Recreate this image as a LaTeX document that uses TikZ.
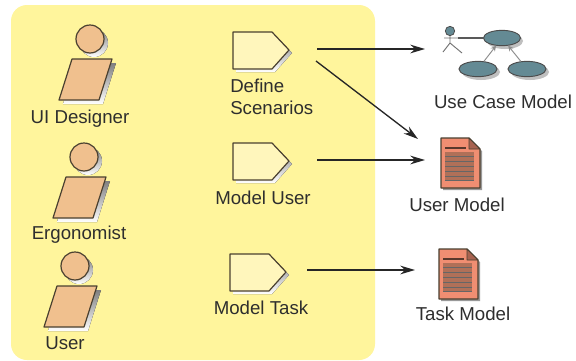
\documentclass[tikz,border=0pt]{standalone}
\usepackage{fontspec}
\setmainfont{Liberation Sans}
\usetikzlibrary{arrows.meta,shapes.geometric}
\definecolor{panel}{HTML}{FFF59C}
\definecolor{skin}{HTML}{F0C08E}
\definecolor{taskfill}{HTML}{FFF6BC}
\definecolor{docfill}{HTML}{F08E72}
\definecolor{docdark}{HTML}{B07058}
\definecolor{ucfill}{HTML}{648A94}
\definecolor{shade}{HTML}{A8A8B8}
\definecolor{inkline}{HTML}{4A4030}
\definecolor{labeltext}{HTML}{2E2E2E}
\tikzset{
  x=0.75pt,y=-0.75pt,
  lbl/.style={font=\fontsize{14}{16.5}\selectfont,text=labeltext,inner sep=0pt,align=left},
  arr/.style={-{Stealth[length=11pt,width=6.5pt]},line width=1pt,black!85},
  outl/.style={draw=inkline,line width=0.9pt,line join=round},
  ucell/.style={ellipse,draw=black!70,fill=ucfill,line width=0.7pt,inner sep=0pt,minimum height=11.5pt},
  ucdep/.style={draw=black!45,line width=0.7pt,-{Stealth[length=4pt,width=4pt]}}
}
\newcommand{\personicon}[2]{%
  \begin{scope}[shift={(#1,#2)}]
    \fill[shade] (4,4) circle (14);
    \fill[shade] (-14,24) -- (26,24) -- (13,65) -- (-27,65) -- cycle;
    \draw[outl,fill=skin] (0,0) circle (14);
    \draw[outl,fill=skin] (-18,20) -- (22,20) -- (9,61) -- (-31,61) -- cycle;
  \end{scope}}
\newcommand{\taskicon}[2]{%
  \begin{scope}[shift={(#1,#2)}]
    \fill[shade] (3,3) -- (42,3) -- (59,21) -- (42,40) -- (3,40) -- cycle;
    \draw[outl,fill=taskfill] (0,0) -- (39,0) -- (56,18) -- (39,37) -- (0,37) -- cycle;
  \end{scope}}
\newcommand{\docicon}[2]{%
  \begin{scope}[shift={(#1,#2)}]
    \fill[black!40] (2,2) -- (30,2) -- (41,13) -- (41,52) -- (2,52) -- cycle;
    \draw[outl,fill=docfill] (0,0) -- (28,0) -- (39,11) -- (39,50) -- (0,50) -- cycle;
    \draw[outl,fill=docfill!70!black,line width=0.6pt] (28,0) -- (28,11) -- (39,11) -- cycle;
    \draw[docdark!50!black,line width=1.1pt] (4,10) -- (25,10);
    \fill[docdark] (4,14) rectangle (33,43);
    \foreach \yy in {18,23,28,33,38,42}{\draw[black!60,line width=0.7pt] (4,\yy) -- (33,\yy);}
  \end{scope}}
\begin{document}
\begin{tikzpicture}
\useasboundingbox (0,0) rectangle (576,361);
\fill[white] (0,0) rectangle (576,361);
\fill[panel,rounded corners=12pt] (11,5) rectangle (375,360);

\personicon{90}{39}
\personicon{84}{157}
\personicon{75}{266}
\taskicon{233}{32}
\taskicon{233}{143}
\taskicon{230}{254}
\docicon{441}{138}
\docicon{439}{249}

% use case model
\fill[black!25] (505,41) ellipse (18 and 8);
\fill[black!25] (481,72) ellipse (19 and 8);
\fill[black!25] (530,72) ellipse (19 and 8);
\node[ucell,minimum width=27.75pt] (ucTop) at (502,38) {};
\node[ucell,minimum width=28.5pt] (ucLeft) at (478,69) {};
\node[ucell,minimum width=28.5pt] (ucRight) at (527,69) {};
\node[circle,fill=ucfill,draw=black!70,line width=0.6pt,inner sep=0pt,minimum size=7pt] (actorHead) at (450,31) {};
\coordinate (actorHip) at (450,43);
\coordinate (actorFootL) at (443,52);
\coordinate (actorFootR) at (462,53);
\coordinate (actorArmL) at (444,38);
\coordinate (actorArmR) at (458,38);
\draw[black!55,line width=0.7pt] (actorHead) -- (actorHip) (actorFootL) -- (actorHip) -- (actorFootR) (actorArmL) -- (actorArmR);
\draw[black!65,line width=0.9pt] (actorArmR) -- (ucTop);
\draw[ucdep] (ucLeft) -- (ucTop);
\draw[ucdep] (ucRight) -- (ucTop);

% labels
\node[lbl] (lDesigner) at (80,118.5) {UI Designer};
\node[lbl] (lErgo) at (79,234.5) {Ergonomist};
\node[lbl] (lUser) at (65,343) {User};
\node[lbl,anchor=west] (lDefine) at (230,97) {Define\\Scenarios};
\node[lbl] (lMUser) at (263,198) {Model User};
\node[lbl] (lMTask) at (261,308) {Model Task};
\node[lbl] (lUCM) at (503,102) {Use Case Model};
\node[lbl] (lUM) at (457,205) {User Model};
\node[lbl] (lTM) at (463,314) {Task Model};

% connectors
\coordinate (defOutA) at (317,49);
\coordinate (ucmIn) at (425,49);
\coordinate (defOutB) at (316,61);
\coordinate (umInA) at (418,139);
\coordinate (muOut) at (317,160);
\coordinate (umInB) at (425,160);
\coordinate (mtOut) at (307,270);
\coordinate (tmIn) at (415,270);
\draw[arr] (defOutA) -- (ucmIn);
\draw[arr] (defOutB) -- (umInA);
\draw[arr] (muOut) -- (umInB);
\draw[arr] (mtOut) -- (tmIn);
\end{tikzpicture}
\end{document}
